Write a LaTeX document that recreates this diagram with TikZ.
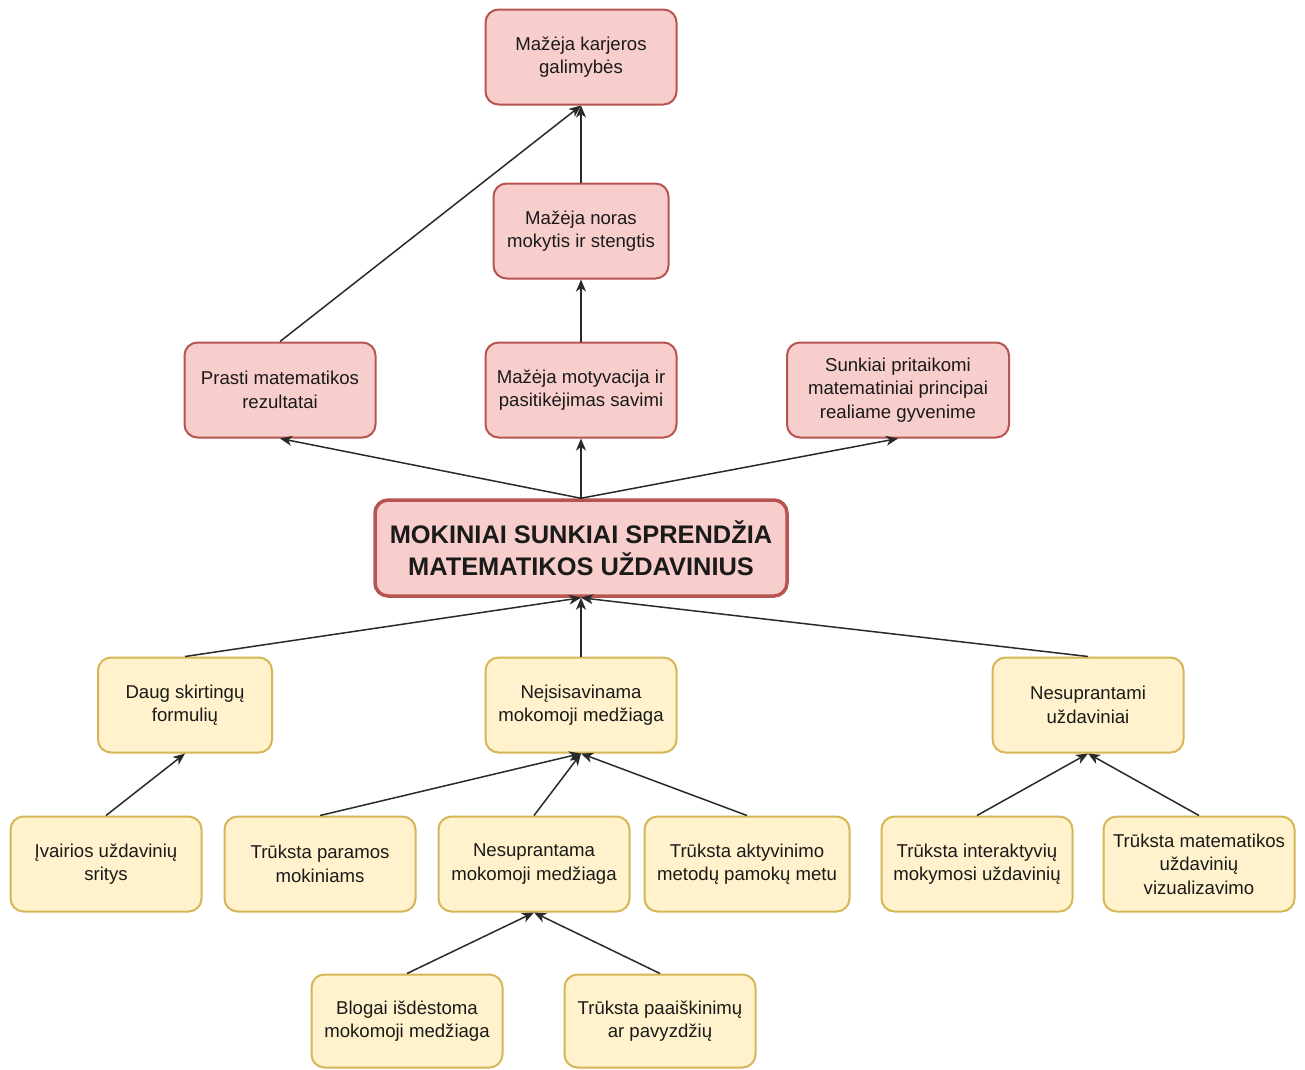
\documentclass[tikz,border=0pt]{standalone}
\usepackage{fontspec}
\setmainfont{Liberation Sans}
\usetikzlibrary{arrows.meta}
\definecolor{redfill}{HTML}{F8CECC}
\definecolor{redline}{HTML}{B85450}
\definecolor{yelfill}{HTML}{FFF2CC}
\definecolor{yelline}{HTML}{D6B656}
\definecolor{edgecol}{HTML}{2A2A2A}
\definecolor{txt}{HTML}{1A1A1A}
\begin{document}
\begin{tikzpicture}[x=1pt,y=-1pt,
  box/.style={rectangle, rounded corners=13pt, line width=2pt, align=center,
    inner sep=0pt, minimum height=95pt, minimum width=191pt, text=txt,
    font=\fontsize{18.6}{23.5}\selectfont},
  redbox/.style={box, draw=redline, fill=redfill},
  yelbox/.style={box, draw=yelline, fill=yelfill},
  mainbox/.style={redbox, line width=3.5pt, minimum width=412pt, minimum height=96pt,
    font=\fontsize{25.4}{32}\selectfont\bfseries},
  link/.style={draw=edgecol, line width=1.5pt, -{Stealth[length=12pt,width=10pt,inset=3.5pt]}}
]
\useasboundingbox (0,0) rectangle (1305,1069);
\fill[white] (0,0) rectangle (1305,1069);

% effects
\node[redbox] (karj) at (581,57) {Mažėja karjeros\\galimybės};
\node[redbox, minimum width=175pt] (noras) at (581,231) {Mažėja noras\\mokytis ir stengtis};
\node[redbox] (prasti) at (280,390) {Prasti matematikos\\rezultatai};
\node[redbox] (motyv) at (581,390) {Mažėja motyvacija ir\\pasitikėjimas savimi};
\node[redbox, minimum width=222pt] (princ) at (898,390) {Sunkiai pritaikomi\\matematiniai principai\\realiame gyvenime};

% central problem
\node[mainbox] (main) at (581,548) {MOKINIAI SUNKIAI SPRENDŽIA\\MATEMATIKOS UŽDAVINIUS};

% causes
\node[yelbox, minimum width=174pt] (daug) at (185,705) {Daug skirtingų\\formulių};
\node[yelbox] (neisis) at (581,705) {Neįsisavinama\\mokomoji medžiaga};
\node[yelbox] (nesupr) at (1088,705) {Nesuprantami\\uždaviniai};

\node[yelbox] (ivair) at (106,864) {Įvairios uždavinių\\sritys};
\node[yelbox] (param) at (320,864) {Trūksta paramos\\mokiniams};
\node[yelbox] (nesmed) at (534,864) {Nesuprantama\\mokomoji medžiaga};
\node[yelbox, minimum width=205pt] (aktyv) at (747,864) {Trūksta aktyvinimo\\metodų pamokų metu};
\node[yelbox] (inter) at (977,864) {Trūksta interaktyvių\\mokymosi uždavinių};
\node[yelbox] (vizual) at (1199,864) {Trūksta matematikos\\uždavinių\\vizualizavimo};

\node[yelbox, minimum height=93pt] (blogai) at (407,1021) {Blogai išdėstoma\\mokomoji medžiaga};
\node[yelbox, minimum height=93pt] (paaisk) at (660,1021) {Trūksta paaiškinimų\\ar pavyzdžių};

% connectors
\draw[link] (prasti.north) -- (karj.south);
\draw[link] (noras.north) -- (karj.south);
\draw[link] (motyv.north) -- (noras.south);
\draw[link] (main.north) -- (prasti.south);
\draw[link] (main.north) -- (motyv.south);
\draw[link] (main.north) -- (princ.south);

\draw[link] (daug.north) -- (main.south);
\draw[link] (neisis.north) -- (main.south);
\draw[link] (nesupr.north) -- (main.south);

\draw[link] (ivair.north) -- (daug.south);
\draw[link] (param.north) -- (neisis.south);
\draw[link] (nesmed.north) -- (neisis.south);
\draw[link] (aktyv.north) -- (neisis.south);
\draw[link] (inter.north) -- (nesupr.south);
\draw[link] (vizual.north) -- (nesupr.south);

\draw[link] (blogai.north) -- (nesmed.south);
\draw[link] (paaisk.north) -- (nesmed.south);
\end{tikzpicture}
\end{document}
